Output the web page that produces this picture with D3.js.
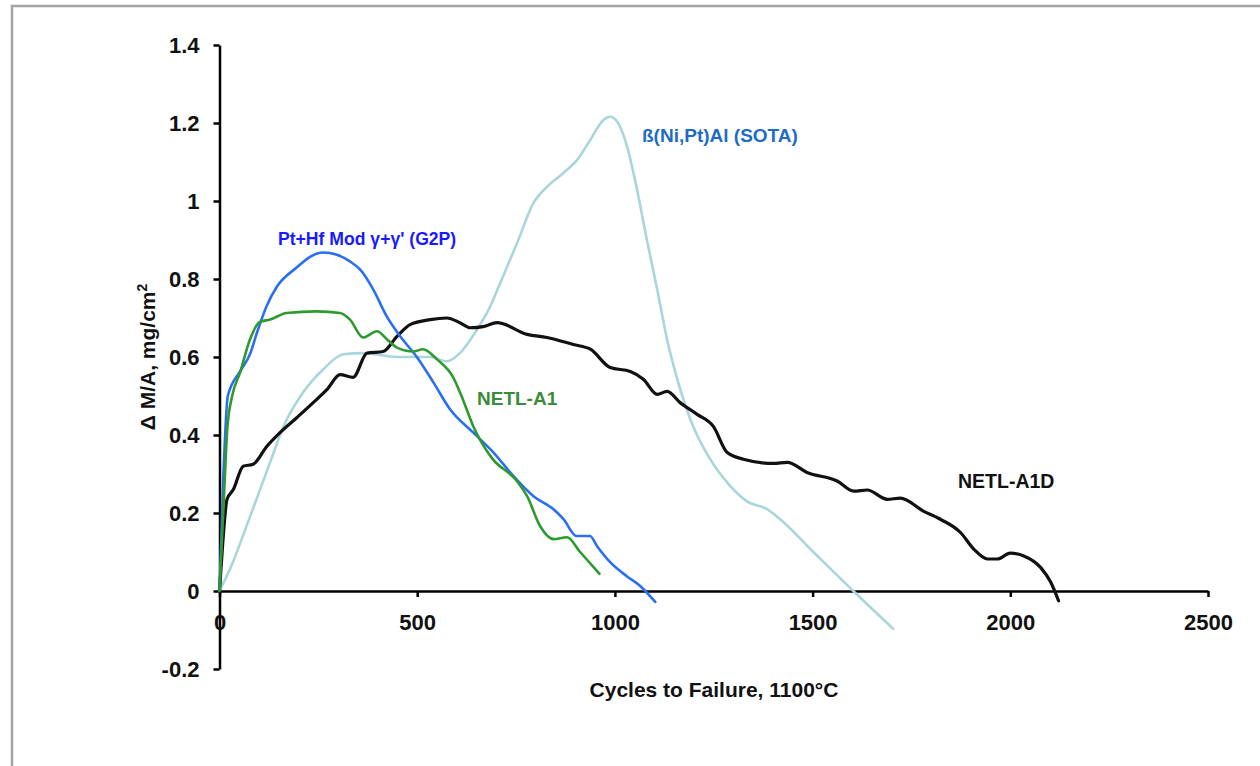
<!DOCTYPE html>
<html>
<head>
<meta charset="utf-8">
<script src="https://cdn.jsdelivr.net/npm/d3@7"></script>
<style>
  body { margin: 0; background: #fff; }
  svg text { font-family: "Liberation Sans", Arial, sans-serif; font-weight: bold; }
</style>
</head>
<body>
<div id="chart"></div>
<script>
// data (cycles, mass change mg/cm2)
var g2pCycles = [ 0, 10, 21, 52, 77, 94, 119, 145, 196, 229, 262, 297, 330, 356, 389, 423, 457, 499, 541, 583, 642, 693, 743, 794, 844, 870, 903, 937, 955, 988, 1030, 1064, 1102 ];
var g2pGain = [ 0, 0.30, 0.50, 0.563, 0.607, 0.66, 0.73, 0.78, 0.83, 0.857, 0.868, 0.862, 0.845, 0.824, 0.773, 0.704, 0.653, 0.60, 0.535, 0.466, 0.406, 0.355, 0.295, 0.243, 0.21, 0.184, 0.141, 0.141, 0.115, 0.074, 0.038, 0.013, -0.028 ];

var a1Cycles = [ 0, 11, 20, 32, 52, 77, 102, 128, 170, 246, 305, 330, 363, 398, 424, 449, 490, 515, 550, 591, 616, 642, 688, 752, 778, 811, 845, 879, 912, 961 ];
var a1Gain = [ 0, 0.235, 0.42, 0.50, 0.56, 0.645, 0.69, 0.696, 0.713, 0.717, 0.713, 0.696, 0.65, 0.666, 0.645, 0.624, 0.614, 0.62, 0.594, 0.548, 0.49, 0.422, 0.342, 0.282, 0.243, 0.166, 0.133, 0.138, 0.10, 0.044 ];

var sotaCycles = [ 0, 26, 77, 128, 161, 212, 262, 313, 363, 449, 533, 575, 608, 651, 680, 710, 753, 794, 829, 870, 905, 938, 971, 988, 1006, 1031, 1056, 1081, 1107, 1132, 1160, 1198, 1241, 1292, 1334, 1385, 1418, 1502, 1603, 1704 ];
var sotaGain = [ 0, 0.055, 0.19, 0.33, 0.42, 0.51, 0.568, 0.607, 0.61, 0.60, 0.60, 0.589, 0.61, 0.67, 0.72, 0.79, 0.893, 0.995, 1.037, 1.072, 1.106, 1.157, 1.208, 1.216, 1.203, 1.139, 1.029, 0.90, 0.773, 0.645, 0.535, 0.422, 0.338, 0.269, 0.23, 0.21, 0.184, 0.10, 0.0, -0.097 ];

var a1dCycles = [ 0, 8, 19, 35, 60, 85, 119, 153, 196, 237, 272, 305, 338, 373, 414, 449, 482, 533, 575, 608, 634, 667, 702, 778, 828, 895, 938, 988, 1039, 1072, 1107, 1132, 1165, 1208, 1249, 1284, 1325, 1401, 1436, 1486, 1562, 1604, 1638, 1689, 1722, 1780, 1823, 1874, 1908, 1942, 1967, 2000, 2034, 2077, 2102, 2122 ];
var a1dGain = [ 0, 0.12, 0.235, 0.26, 0.32, 0.325, 0.37, 0.406, 0.445, 0.483, 0.517, 0.555, 0.548, 0.61, 0.614, 0.653, 0.683, 0.696, 0.70, 0.688, 0.675, 0.678, 0.688, 0.658, 0.65, 0.632, 0.62, 0.573, 0.563, 0.543, 0.504, 0.512, 0.483, 0.453, 0.422, 0.355, 0.338, 0.327, 0.33, 0.304, 0.282, 0.256, 0.259, 0.235, 0.238, 0.205, 0.184, 0.15, 0.107, 0.082, 0.082, 0.097, 0.09, 0.06, 0.023, -0.025 ];

var xTicks = [ 0, 500, 1000, 1500, 2000, 2500 ];
var yTicks = [ -0.2, 0, 0.2, 0.4, 0.6, 0.8, 1, 1.2, 1.4 ];

var seriesNames = [ 'ß(Ni,Pt)Al (SOTA)', 'NETL-A1D', 'Pt+Hf Mod γ+γ\' (G2P)', 'NETL-A1' ];

var W = 1260, H = 766;

var svg = d3.select( '#chart' ).append( 'svg' )
	.attr( 'width', W )
	.attr( 'height', H );

// grey frame of the pasted picture
svg.append( 'path' )
	.attr( 'd', 'M12,' + H + 'L12,6L' + W + ',6' )
	.attr( 'fill', 'none' )
	.attr( 'stroke', '#a4a4a4' )
	.attr( 'stroke-width', 2.5 );

var x = d3.scaleLinear().domain( [ 0, 2500 ] ).range( [ 219.5, 1208 ] );
var y = d3.scaleLinear().domain( [ -0.2, 1.4 ] ).range( [ 669, 45 ] );

var fmt = function( d ) { return String( +d.toFixed( 1 ) ); };

// Y axis
var yAxisG = svg.append( 'g' )
	.attr( 'transform', 'translate(' + x( 0 ) + ',0)' )
	.call( d3.axisLeft( y ).tickValues( yTicks ).tickFormat( fmt ).tickSize( 6 ).tickSizeOuter( 0 ).tickPadding( 14 ) );

// X axis at zero
var xAxisG = svg.append( 'g' )
	.attr( 'transform', 'translate(0,' + y( 0 ) + ')' )
	.call( d3.axisBottom( x ).tickValues( xTicks ).tickFormat( d3.format( 'd' ) ).tickSize( 6 ).tickSizeOuter( 0 ).tickPadding( 17 ) );

[ yAxisG, xAxisG ].forEach( function( g ) {
	g.select( '.domain' ).attr( 'stroke', '#000' ).attr( 'stroke-width', 2.5 );
	g.selectAll( '.tick line' ).attr( 'stroke', '#000' ).attr( 'stroke-width', 2.5 );
	g.selectAll( '.tick text' )
		.attr( 'fill', '#111' )
		.attr( 'font-size', '22px' )
		.attr( 'font-family', '"Liberation Sans", Arial, sans-serif' )
		.attr( 'font-weight', 'bold' );
} );
yAxisG.selectAll( '.tick text' ).attr( 'dy', '0.36em' );

// axis titles
svg.append( 'text' )
	.attr( 'x', 714 )
	.attr( 'y', 697 )
	.attr( 'text-anchor', 'middle' )
	.attr( 'font-size', '21px' )
	.attr( 'fill', '#111' )
	.text( 'Cycles to Failure, 1100°C' );

var yTitle = svg.append( 'text' )
	.attr( 'transform', 'translate(155,357) rotate(-90)' )
	.attr( 'text-anchor', 'middle' )
	.attr( 'font-size', '21px' )
	.attr( 'fill', '#111' );
yTitle.append( 'tspan' ).text( 'Δ M/A, mg/cm' );
yTitle.append( 'tspan' ).attr( 'dy', '-8' ).attr( 'font-size', '14px' ).text( '2' );

// lines
var line = d3.line()
	.x( function( d ) { return x( d[ 0 ] ); } )
	.y( function( d ) { return y( d[ 1 ] ); } )
	.curve( d3.curveMonotoneX );

function pairs( xs, ys ) {
	return xs.map( function( v, i ) { return [ v, ys[ i ] ]; } );
}

var series = [
	{ pts: pairs( sotaCycles, sotaGain ), color: '#a8d6da', w: 2.6 },
	{ pts: pairs( a1dCycles, a1dGain ), color: '#111111', w: 3.2 },
	{ pts: pairs( g2pCycles, g2pGain ), color: '#2a6ef2', w: 2.6 },
	{ pts: pairs( a1Cycles, a1Gain ), color: '#2e9a2e', w: 2.6 }
];

svg.selectAll( '.series' )
	.data( series )
	.enter()
	.append( 'path' )
	.attr( 'class', 'series' )
	.attr( 'd', function( d ) { return line( d.pts ); } )
	.attr( 'fill', 'none' )
	.attr( 'stroke', function( d ) { return d.color; } )
	.attr( 'stroke-width', function( d ) { return d.w; } )
	.attr( 'stroke-linejoin', 'round' )
	.attr( 'stroke-linecap', 'round' );

// series labels
var labels = [
	{ t: seriesNames[ 0 ], x: 642, y: 142, c: '#1e6cc4', s: 19 },
	{ t: seriesNames[ 1 ], x: 958, y: 488, c: '#111111', s: 19.5 },
	{ t: seriesNames[ 2 ], x: 278, y: 245, c: '#1a1aff', s: 17.6 },
	{ t: seriesNames[ 3 ], x: 477, y: 405, c: '#3a8c3a', s: 19 }
];

svg.selectAll( '.lbl' )
	.data( labels )
	.enter()
	.append( 'text' )
	.attr( 'class', 'lbl' )
	.attr( 'x', function( d ) { return d.x; } )
	.attr( 'y', function( d ) { return d.y; } )
	.attr( 'font-size', function( d ) { return d.s + 'px'; } )
	.attr( 'fill', function( d ) { return d.c; } )
	.text( function( d ) { return d.t; } );
</script>
</body>
</html>
